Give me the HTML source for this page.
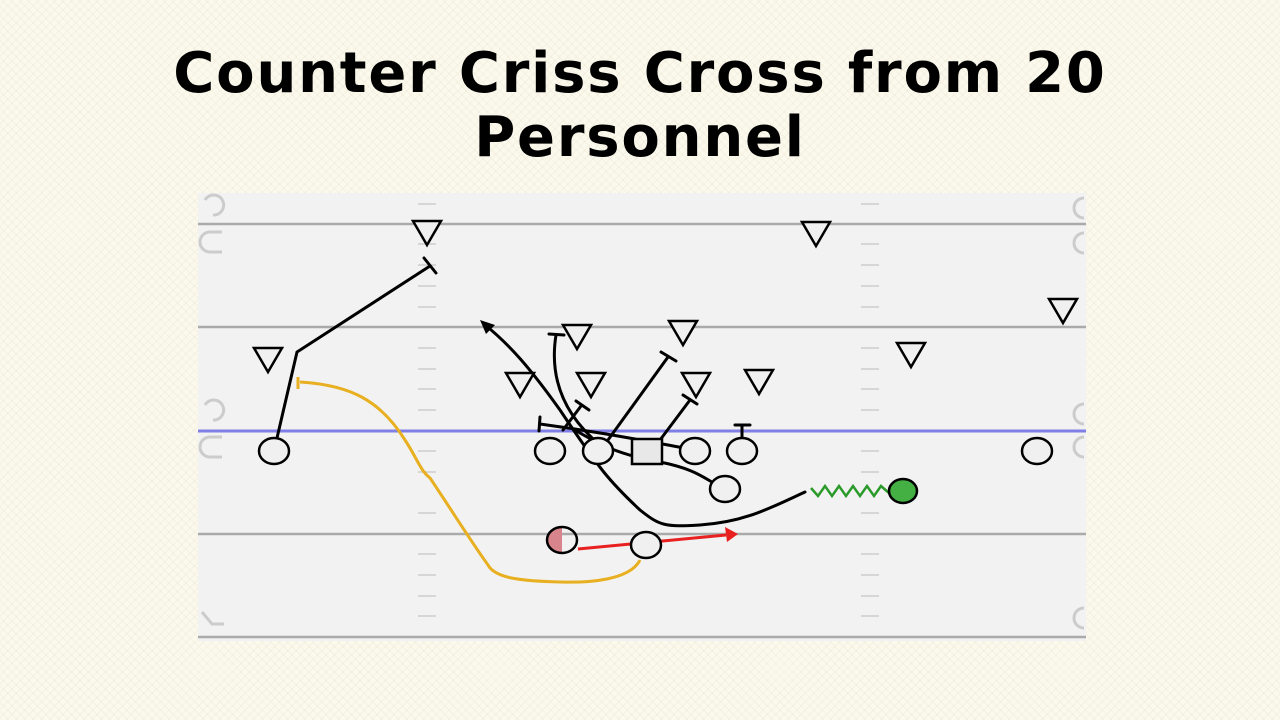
<!DOCTYPE html>
<html><head><meta charset="utf-8"><style>
html,body{margin:0;padding:0;width:1280px;height:720px;overflow:hidden;background:#fbf8ec;}
body{background-color:#fbf8ec;background-image:repeating-linear-gradient(45deg,rgba(200,190,160,0.12) 0 1px,transparent 1px 6px),repeating-linear-gradient(-45deg,rgba(200,190,160,0.12) 0 1px,transparent 1px 6px);}
h1{position:absolute;left:0;top:42px;width:1280px;margin:0;text-align:center;font-family:"DejaVu Sans","Liberation Sans",sans-serif;font-weight:bold;font-size:56px;line-height:64px;color:#000;letter-spacing:1.8px;}
svg{position:absolute;left:0;top:0;}
</style></head><body>
<h1>Counter Criss Cross from 20<br>Personnel</h1>
<svg id="field" width="1280" height="720">
<rect x="198" y="193" width="888" height="448" fill="#f2f2f2"/>
<g stroke="#aaa" stroke-width="2.5">
<line x1="198" y1="224" x2="1086" y2="224"/><line x1="198" y1="327" x2="1086" y2="327"/>
<line x1="198" y1="534" x2="1086" y2="534"/><line x1="198" y1="637" x2="1086" y2="637"/>
</g>
<line x1="198" y1="431" x2="1086" y2="431" stroke="#7f7fe6" stroke-width="3"/>
<g id="hashes" stroke="#ccc" stroke-width="1.5"></g>
<g fill="none" stroke="#ccc" stroke-width="3">
<path d="M205,200 a10,10 0 1 1 8,15"/><path d="M222,232 h-12 a10,10 0 0 0 0,20 h12"/>
<path d="M205,405 a10,10 0 1 1 8,15"/><path d="M222,437 h-12 a10,10 0 0 0 0,20 h12"/>
<path d="M1084,198 a10,10 0 1 0 0,20"/><path d="M1084,233 a10,10 0 1 0 0,20"/>
<path d="M1084,404 a10,10 0 1 0 0,20"/><path d="M1084,437 a10,10 0 1 0 0,20"/><path d="M1084,608 a10,10 0 1 0 0,20"/>
<path d="M202,612 l10,12 h12"/>
</g>
<g fill="none" stroke="#000" stroke-width="3" stroke-linecap="round">
<path d="M277,438 L297,352 L430,266"/>
<path d="M424,258 L436,273"/>
<path d="M805,492 C770,508 745,522 700,525 C665,527 660,526 640,510 C610,482 600,470 560,410 C530,368 510,345 484,324"/>
<path d="M600,445 C570,420 548,385 556,335"/>
<path d="M549,334 L564,335"/>
<path d="M540,424 C600,432 640,440 690,449"/>
<path d="M540,417 L539,431"/>
<path d="M563,430 L581,406"/><path d="M576,401 L589,410"/>
<path d="M725,489 C705,480 700,470 660,462 C620,455 600,445 575,430"/>
<path d="M608,440 L668,357"/><path d="M661,352 L676,361"/>
<path d="M660,440 L690,400"/><path d="M683,395 L697,404"/>
<path d="M742,438 L742,425"/><path d="M735,425 L750,425"/>
</g>
<path d="M480,320 L495,325 L486,334 Z" fill="#000"/>
<path d="M640,560 C630,580 590,583 560,582 C520,581 495,578 488,565 C470,540 445,500 430,478 C420,470 418,460 405,440 C380,400 350,385 300,382" fill="none" stroke="#e8b020" stroke-width="3"/>
<path d="M298,377 L298,389" stroke="#e8b020" stroke-width="3"/>
<line x1="578" y1="549" x2="726" y2="535" stroke="#e82020" stroke-width="3"/>
<path d="M738,534 L725,527 L727,542 Z" fill="#e82020"/>
<polyline points="811,488 818,496 825,486 832,496 839,486 846,496 853,486 860,496 867,486 874,496 881,486 889,493" fill="none" stroke="#2a9a2a" stroke-width="2.5"/>
<g id="players"></g>
<g id="defense"></g>
</svg>
<script>
var svg='http://www.w3.org/2000/svg';
var hashY=[204,244,265,286,307,348,369,389,410,451,472,513,554,575,596,616];
var hashX=[427,870];
var offenseX=[274,550,598,695,742,725,646,1037];
var offenseY=[451,451,451,451,451,489,545,451];
var defenseX=[427,816,268,577,683,520,591,696,759,911,1063];
var defenseY=[232,233,359,336,332,384,384,384,381,354,310];
var hg=document.getElementById('hashes');
hashX.forEach(function(x){hashY.forEach(function(y){
 var l=document.createElementNS(svg,'line');
 l.setAttribute('x1',x-9);l.setAttribute('x2',x+9);l.setAttribute('y1',y);l.setAttribute('y2',y);
 
 
 hg.appendChild(l);});});
var pg=document.getElementById('players');
function el(t,a){var e=document.createElementNS(svg,t);for(var k in a)e.setAttribute(k,a[k]);return e;}
offenseX.forEach(function(x,i){
 var c=el('ellipse',{cx:x,cy:offenseY[i],rx:15,ry:13,fill:'#f0f0f0',stroke:'#000','stroke-width':2.5});
 
 
 pg.appendChild(c);});
var ctr=el('rect',{x:632,y:439,width:30,height:25,fill:'#e8e8e8',stroke:'#000','stroke-width':2.5});


pg.appendChild(ctr);
var hb=el('path',{d:'M562,527 a15,13 0 0 0 0,26 Z',fill:'#d8848c'});


pg.appendChild(hb);
var hc=el('ellipse',{cx:562,cy:540,rx:15,ry:13,fill:'none',stroke:'#000','stroke-width':2.5});


pg.appendChild(hc);
var gc=el('ellipse',{cx:903,cy:491,rx:14,ry:12,fill:'#44b044',stroke:'#000','stroke-width':2.5});


pg.appendChild(gc);
var dg=document.getElementById('defense');
defenseX.forEach(function(x,i){var y=defenseY[i];
 var p=el('path',{d:'M'+(x-14)+','+(y-11)+' L'+(x+14)+','+(y-11)+' L'+x+','+(y+13)+' Z',fill:'#f0f0f0',stroke:'#000','stroke-width':2.5,'stroke-linejoin':'miter'});
 
 
 dg.appendChild(p);});
</script>
</body></html>
